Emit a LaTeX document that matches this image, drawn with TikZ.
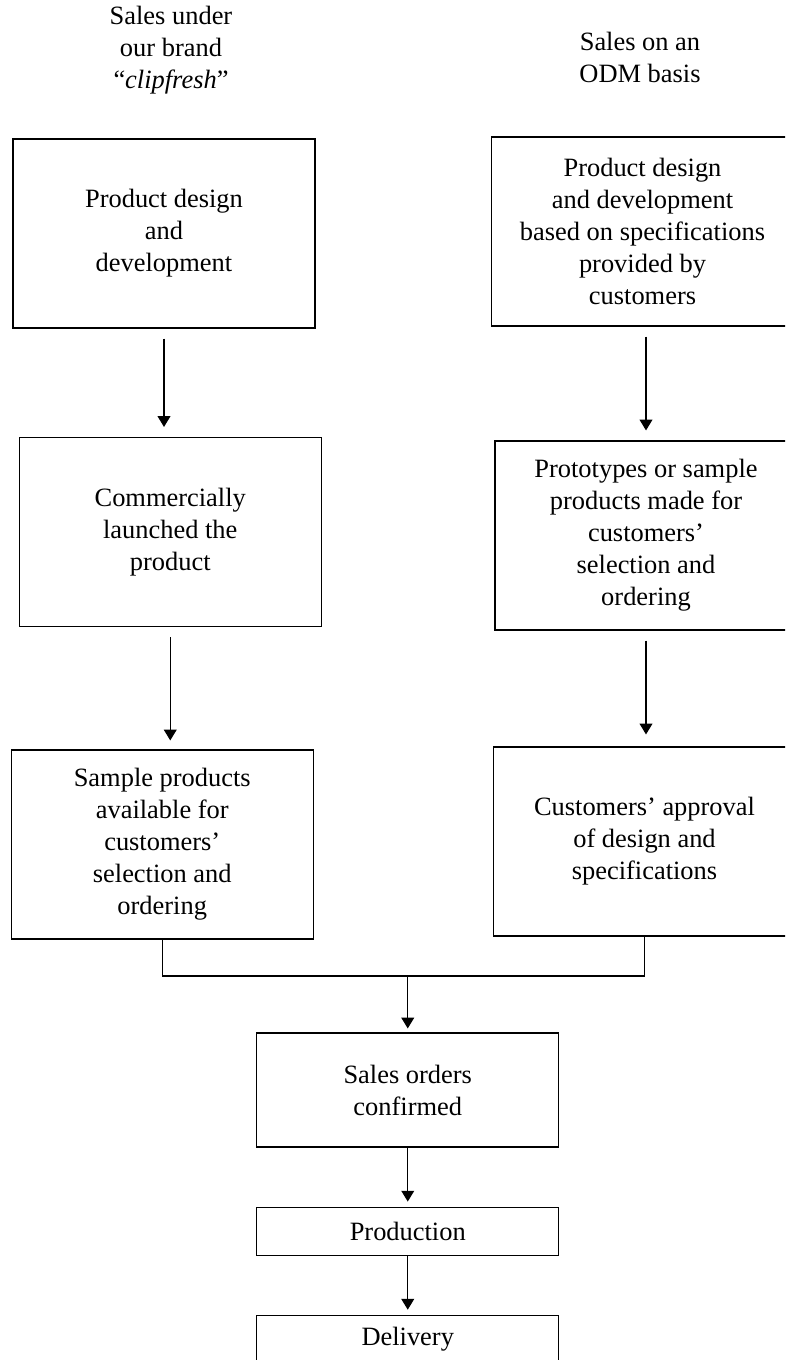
\documentclass[tikz,border=0pt]{standalone}
\usepackage{fontspec}
\setmainfont{Liberation Serif}
\usetikzlibrary{arrows.meta,positioning}

\begin{document}
\begin{tikzpicture}[x=0.25mm,y=-0.25mm,line width=0.8pt,node distance=14.75mm,font=\fontsize{18.8}{22.8}\selectfont,box/.style={draw,align=center,inner sep=0pt,minimum width=75.5mm,minimum height=47.25mm},low/.style={box,minimum height=12mm},ttl/.style={align=center,inner sep=0pt},arr/.style={-{Triangle[length=2.7mm,width=3.2mm]}}]
\useasboundingbox (0,0) rectangle (785,1360);
\clip (0,0) rectangle (785,1360);
\node[ttl] (tl) at (171,50) {Sales under\\our brand\\“\textit{clipfresh}”};
\node[ttl] (tr) at (640,57) {Sales on an\\ODM basis};
\node[box] (pd) at (164,233.5) {Product design\\and\\development};
\node[box] (cl) at (170.25,532) {Commercially\\launched the\\product};
\node[box] (sp) at (162.25,844.5) {Sample products\\available for\\customers’\\selection and\\ordering};
\node[box] (od) at (642.5,231.5) {Product design\\and development\\based on specifications\\provided by\\customers};
\node[box] (pt) at (646,535.5) {Prototypes or sample\\products made for\\customers’\\selection and\\ordering};
\node[box] (ca) at (644.5,841.5) {Customers’ approval\\of design and\\specifications};
\node[box,minimum height=28.5mm] (so) at (407.75,1090) {Sales orders\\confirmed};
\node[low,below=of so] (pr) {Production};
\node[low,below=of pr] (dl) {Delivery};
\coordinate (jn) at (407.75,976);
\draw[arr] ([yshift=-2.5mm]pd.south) -- ([yshift=2.5mm]pd.south |- cl.north);
\draw[arr] ([yshift=-2.5mm]cl.south) -- ([yshift=2.25mm]cl.south |- sp.north);
\draw[arr] ([yshift=-2.5mm]pt.north |- od.south) -- ([yshift=2.5mm]pt.north);
\draw[arr] ([yshift=-2.5mm]pt.south) -- ([yshift=3mm]pt.south |- ca.north);
\draw (sp.south) |- (jn) -| (ca.south);
\draw[arr] (jn) -- ([yshift=1mm]so.north);
\draw[arr] (so) -- ([yshift=1.25mm]pr.north);
\draw[arr] (pr) -- ([yshift=1.25mm]dl.north);
\end{tikzpicture}
\end{document}
